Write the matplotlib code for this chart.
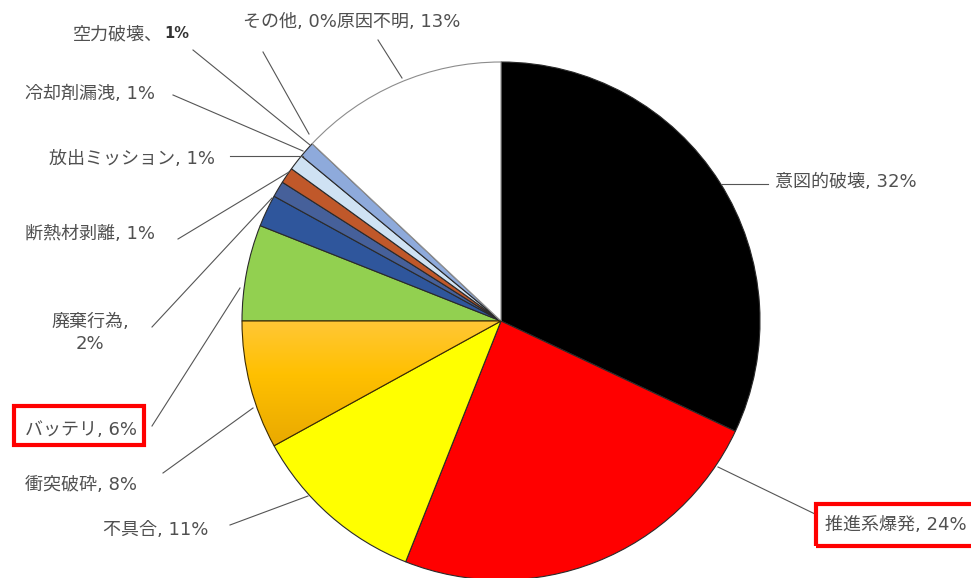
import numpy as np
import matplotlib
matplotlib.use("Agg")
import matplotlib.pyplot as plt
from matplotlib.patches import Rectangle
from matplotlib.colors import LinearSegmentedColormap

# latin glyphs from DejaVu, kana/kanji fall through to Noto CJK
plt.rcParams['font.family'] = ['DejaVu Sans', 'Noto Sans CJK JP']

# causes of on-orbit breakups (%), clockwise from 12 o'clock
causes = ['意図的破壊', '推進系爆発', '不具合', '衝突破砕', 'バッテリ', '廃棄行為',
          '断熱材剥離', '放出ミッション', '冷却剤漏洩', '空力破壊', 'その他', '原因不明']
shares = [32, 24, 11, 8, 6, 2, 1, 1, 1, 1, 0, 13]
colors = ['#000000', '#ff0000', '#ffff00', '#ffc000', '#92d050', '#2f569c',
          '#46609a', '#c0582a', '#cfe2f3', '#8eaadb', '#a6a6a6', '#ffffff']

W, H = 971, 578
TXT = '#505050'


def py(y):
    # layout is written in image-style coordinates (y grows downward)
    return H - y


fig = plt.figure(figsize=(W / 100, H / 100), dpi=100)
ax = fig.add_axes([0, 0, 1, 1])

cx, cy, rad = 501, 321, 259
wedges, _ = ax.pie(shares, colors=colors, startangle=90, counterclock=False,
                   center=(cx, py(cy)), radius=rad,
                   wedgeprops=dict(edgecolor='#2a2a2a', linewidth=0.8))
wedges[-1].set_edgecolor('#8c8c8c')
wedges[-2].set_edgecolor('#8c8c8c')

# shaded fill for the collision slice
orange = wedges[causes.index('衝突破砕')]
orange.set_facecolor('none')
orange.set_edgecolor('#3d2b00')
orange.set_zorder(3)
cmap = LinearSegmentedColormap.from_list('org', ['#ffca4a', '#ffc000', '#e8a800'])
grad = np.linspace(0, 1, 256).reshape(-1, 1)
img = ax.imshow(grad, cmap=cmap, aspect='auto', zorder=2,
                extent=(cx - rad, cx, py(450), py(300)), origin='upper')
img.set_clip_path(orange)

# labels: text, anchor, alignment, leader line (start, end)
labels = [
    ('意図的破壊, 32%', (775, 182), 'left', [(722, 184), (768, 184)]),
    ('推進系爆発, 24%', (825, 525), 'left', [(718, 467), (815, 514)]),
    ('不具合, 11%', (208, 530), 'right', [(308, 496), (230, 525)]),
    ('衝突破砕, 8%', (25, 485), 'left', [(253, 408), (163, 473)]),
    ('バッテリ, 6%', (25, 430), 'left', [(240, 288), (152, 426)]),
    ('廃棄行為,\n2%', (90, 333), 'center', [(152, 327), (272, 198)]),
    ('断熱材剥離, 1%', (25, 234), 'left', [(178, 239), (289, 172)]),
    ('放出ミッション, 1%', (49, 159), 'left', [(230, 156), (303, 156)]),
    ('冷却剤漏洩, 1%', (25, 94), 'left', [(173, 95), (303, 151)]),
    ('空力破壊、', (73, 34), 'left', [(193, 50), (310, 145)]),
    ('その他, 0%原因不明, 13%', (243, 22), 'left', [(263, 52), (309, 134)]),
]
for text, (x, y), ha, line in labels:
    ax.text(x, py(y), text, ha=ha, va='center', fontsize=13, color=TXT,
            linespacing=1.25)
    (x0, y0), (x1, y1) = line
    ax.plot([x0, x1], [py(y0), py(y1)], color='#555555', lw=0.8, zorder=1)

ax.text(164, py(34), '1%', ha='left', va='center', fontsize=10.5,
        fontweight='bold', color='#333333')
# leader for the unknown-cause slice
ax.plot([378, 402], [py(40), py(78)], color='#555555', lw=0.8, zorder=1)

# highlight boxes
for (x0, y0, x1, y1) in [(14, 406, 144, 445), (816, 504, 990, 546)]:
    ax.add_patch(Rectangle((x0, py(y1)), x1 - x0, y1 - y0, fill=False,
                           edgecolor='#ff0000', lw=3, zorder=5))

ax.set_xlim(0, W)
ax.set_ylim(0, H)
ax.set_aspect('equal')
ax.axis('off')

fig.savefig('out.png', dpi=100, facecolor='white')
